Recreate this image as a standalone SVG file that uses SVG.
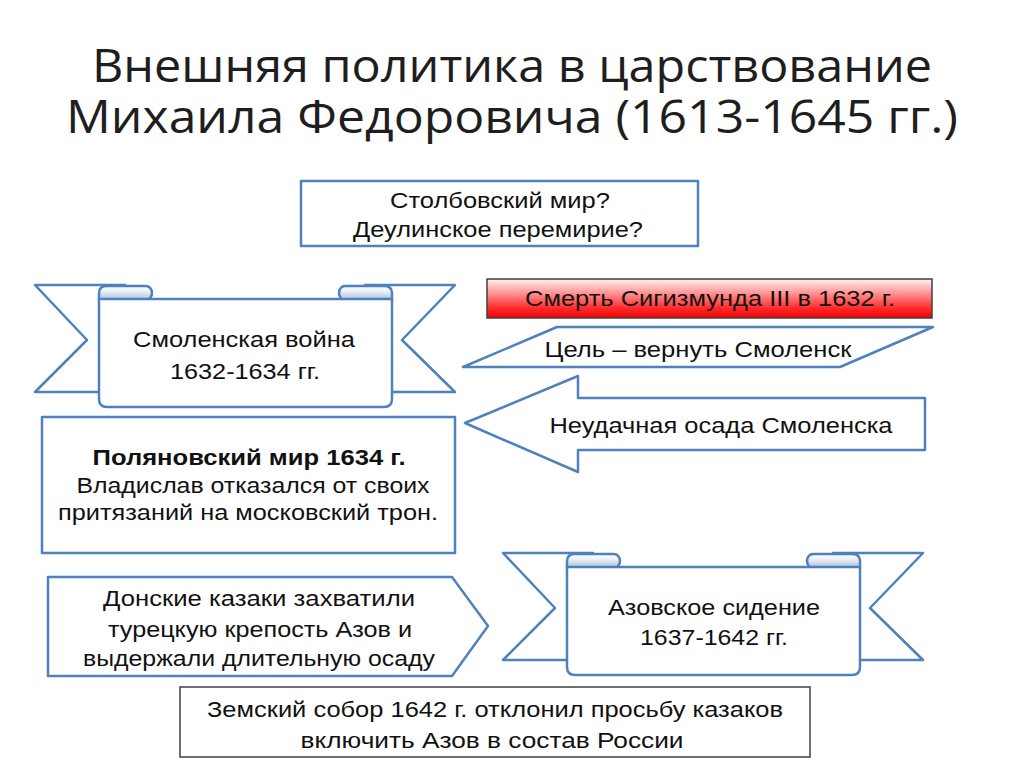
<svg xmlns="http://www.w3.org/2000/svg" xmlns:xlink="http://www.w3.org/1999/xlink" width="1024" height="767" viewBox="0 0 1024 767">
<style>
.b{fill:#fff;stroke:#4f81bd;stroke-width:2.5;stroke-linejoin:round}
.g{fill:#fff;stroke:#404040;stroke-width:1.5}
.t{font-family:"Liberation Sans",Arial,sans-serif;font-size:22px;fill:#111;text-anchor:middle}
.h{font-family:"Open Sans","Noto Sans",sans-serif;font-size:46px;fill:#1e1e1e;text-anchor:middle}
</style>
<defs>
<linearGradient id="tube" x1="0" y1="0" x2="0" y2="1">
<stop offset="0" stop-color="#ffffff"/>
<stop offset="0.35" stop-color="#eef2f8"/>
<stop offset="1" stop-color="#a9bfdc"/>
</linearGradient>
<linearGradient id="red" x1="0" y1="0" x2="0" y2="1">
<stop offset="0" stop-color="#fff2f2"/>
<stop offset="0.4" stop-color="#ff8a8a"/>
<stop offset="0.75" stop-color="#ff2a2a"/>
<stop offset="1" stop-color="#ee0000"/>
</linearGradient>
<g id="ribbon">
<polygon class="b" points="35,285 125,285 125,392 35,392 87,340"/>
<polygon class="b" points="455,285 365,285 365,392 455,392 402,340"/>
<path d="M99,300 L99,293 Q99,286 107,286 L146,286 A6,7 0 0 1 146,300 Z" fill="url(#tube)" stroke="#4f81bd" stroke-width="2.5"/>
<path d="M392,300 L392,293 Q392,286 384,286 L345,286 A6,7 0 0 0 345,300 Z" fill="url(#tube)" stroke="#4f81bd" stroke-width="2.5"/>
<path class="b" d="M99,299 L392,299 L392,399 Q392,407 384,407 L107,407 Q99,407 99,399 Z"/>
</g>
</defs>

<g id="title">
<text class="h" x="512" y="82" textLength="840" lengthAdjust="spacingAndGlyphs">Внешняя политика в царствование</text>
<text class="h" x="512" y="133" textLength="892" lengthAdjust="spacingAndGlyphs">Михаила Федоровича (1613-1645 гг.)</text>
</g>

<g id="connectors"></g>

<g id="stolbovo">
<rect class="b" x="301" y="181" width="397" height="65"/>
<text class="t" x="500" y="208" textLength="220" lengthAdjust="spacingAndGlyphs">Столбовский мир?</text>
<text class="t" x="498" y="237" textLength="290" lengthAdjust="spacingAndGlyphs">Деулинское перемирие?</text>
</g>

<g id="smolensk-war">
<use xlink:href="#ribbon"/>
<text class="t" x="244" y="347" textLength="222" lengthAdjust="spacingAndGlyphs">Смоленская война</text>
<text class="t" x="245" y="379" textLength="150" lengthAdjust="spacingAndGlyphs">1632-1634 гг.</text>
</g>

<g id="sigismund">
<rect x="487" y="279" width="445" height="39" fill="url(#red)" stroke="#404040" stroke-width="1.5"/>
<text class="t" x="710" y="306" textLength="370" lengthAdjust="spacingAndGlyphs">Смерть Сигизмунда III в 1632 г.</text>
</g>

<g id="goal">
<polygon class="b" points="557,327 933,327 840,367 463,367"/>
<text class="t" x="698" y="357" textLength="307" lengthAdjust="spacingAndGlyphs">Цель – вернуть Смоленск</text>
</g>

<g id="siege">
<polygon class="b" points="465,423 578,376 578,398 925,398 925,450 578,450 578,472"/>
<text class="t" x="721" y="433" textLength="343" lengthAdjust="spacingAndGlyphs">Неудачная осада Смоленска</text>
</g>

<g id="polyanovka">
<rect class="b" x="42" y="417" width="413" height="136"/>
<text class="t" x="249" y="465" font-weight="bold" textLength="313" lengthAdjust="spacingAndGlyphs">Поляновский мир 1634 г.</text>
<text class="t" x="253" y="493" textLength="353" lengthAdjust="spacingAndGlyphs">Владислав отказался от своих</text>
<text class="t" x="248" y="520" textLength="380" lengthAdjust="spacingAndGlyphs">притязаний на московский трон.</text>
</g>

<g id="azov-siege">
<use xlink:href="#ribbon" transform="translate(468,268)"/>
<text class="t" x="714" y="615" textLength="212" lengthAdjust="spacingAndGlyphs">Азовское сидение</text>
<text class="t" x="714" y="645" textLength="148" lengthAdjust="spacingAndGlyphs">1637-1642 гг.</text>
</g>

<g id="don-cossacks">
<polygon class="b" points="48,577 452,577 488,626 452,676 48,676"/>
<text class="t" x="259" y="606" textLength="312" lengthAdjust="spacingAndGlyphs">Донские казаки захватили</text>
<text class="t" x="260" y="637" textLength="304" lengthAdjust="spacingAndGlyphs">турецкую крепость Азов и</text>
<text class="t" x="259" y="666" textLength="352" lengthAdjust="spacingAndGlyphs">выдержали длительную осаду</text>
</g>

<g id="zemsky-sobor">
<rect class="g" x="180" y="687" width="630" height="70"/>
<text class="t" x="495" y="717" textLength="576" lengthAdjust="spacingAndGlyphs">Земский собор 1642 г. отклонил просьбу казаков</text>
<text class="t" x="492" y="748" textLength="383" lengthAdjust="spacingAndGlyphs">включить Азов в состав России</text>
</g>
</svg>
